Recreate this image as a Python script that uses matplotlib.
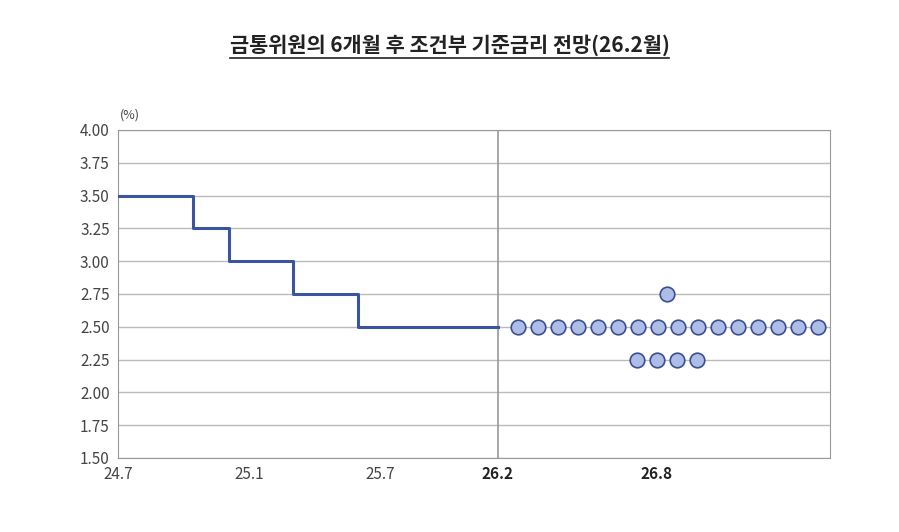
import matplotlib
matplotlib.use("Agg")
import matplotlib.pyplot as plt

plt.rcParams['font.family'] = ['Noto Sans CJK KR', 'DejaVu Sans']

# x positions are in chart-horizontal units (0 = 24.7)
step_x = [0, 75, 75, 111, 111, 175, 175, 240, 240, 380]
step_y = [3.50, 3.50, 3.25, 3.25, 3.00, 3.00, 2.75, 2.75, 2.50, 2.50]
dots_x_250 = [400, 420, 440, 460, 480, 500, 520, 540, 560, 580, 600, 620, 640, 660, 680, 700]
dots_x_275 = [549]
dots_x_225 = [519, 539, 559, 579]
tick_pos = [0, 131, 262, 380, 539]
tick_labels = ["24.7", "25.1", "25.7", "26.2", "26.8"]
y_ticks = [1.50, 1.75, 2.00, 2.25, 2.50, 2.75, 3.00, 3.25, 3.50, 3.75, 4.00]

fig = plt.figure(figsize=(8.99, 5.32), dpi=100)
ax = fig.add_axes([118/899, 1-458/532, 712/899, 328/532])
ax.set_xlim(0, 712)
ax.set_ylim(1.5, 4.0)
ax.set_yticks(y_ticks)
ax.set_yticklabels([f"{v:.2f}" for v in y_ticks], fontsize=11, color='#444444')
ax.set_xticks(tick_pos)
ax.set_xticklabels(tick_labels, fontsize=11, color='#444444')
for i, lab in enumerate(ax.get_xticklabels()):
    if i >= 3:
        lab.set_fontweight('bold'); lab.set_color('#222222')
ax.tick_params(length=0, pad=6)
ax.grid(axis='y', color='#bbbbbb', lw=1)
for s in ax.spines.values():
    s.set_color('#999999')
ax.axvline(380, color='#999999', lw=1.2)

ax.plot(step_x, step_y, color='#3a559f', lw=2.2, zorder=3)
dot_kw = dict(s=110, facecolor='#aebde8', edgecolor='#3a4f8f', linewidth=1.2, zorder=4, clip_on=False)
ax.scatter(dots_x_250, [2.50]*len(dots_x_250), **dot_kw)
ax.scatter(dots_x_275, [2.75]*len(dots_x_275), **dot_kw)
ax.scatter(dots_x_225, [2.25]*len(dots_x_225), **dot_kw)

fig.text(130/899, 1-115/532, "(%)", fontsize=9, color='#444444', ha='center', va='center')
t = fig.text(0.5, 1-45/532, "금통위원의 6개월 후 조건부 기준금리 전망(26.2월)", fontsize=15,
             fontweight='bold', ha='center', va='center', color='#222222')
fig.canvas.draw()
bb = t.get_window_extent()
fig.add_artist(plt.Line2D([bb.x0/899, bb.x1/899], [(bb.y0-2)/532]*2, color='#222222', lw=1.2))
fig.savefig("out.png", dpi=100)
